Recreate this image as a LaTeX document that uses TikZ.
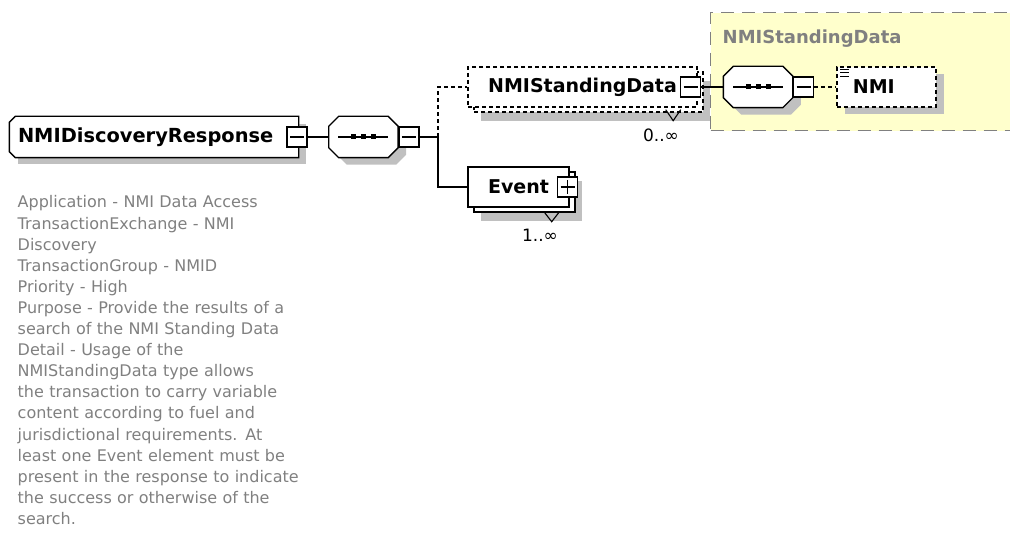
\documentclass[tikz,border=0pt]{standalone}
\usepackage{fontspec}
\setmainfont{DejaVu Sans}
\usetikzlibrary{positioning,shadows}

\definecolor{typeyellow}{RGB}{255,255,204}
\definecolor{textgray}{RGB}{128,128,128}
\definecolor{shadowgray}{RGB}{192,192,192}

\begin{document}
\begin{tikzpicture}[
    x=1pt, y=-1pt,
    line width=1.4pt,
    elemfont/.style={font=\fontsize{19}{22}\selectfont\bfseries},
    elembox/.style={draw, fill=white, elemfont, minimum height=40pt, inner sep=0pt},
    optbox/.style={elembox, dash pattern=on 4pt off 3pt},
    dshadow/.style={drop shadow={shadow xshift=8pt, shadow yshift=-7pt,
        fill=shadowgray, opacity=1}},
    multshadow/.style={drop shadow={shadow xshift=13pt, shadow yshift=-14pt,
        fill=shadowgray, opacity=1},
        copy shadow={shadow xshift=6pt, shadow yshift=-5pt, draw=black,
        fill=white, line width=1.4pt, #1}},
    seqbox/.style={inner sep=0pt, minimum width=68pt, minimum height=40pt},
    btnbox/.style={draw, fill=white, minimum size=20pt, inner sep=0pt,
        path picture={\draw[line width=1.2pt]
          ([xshift=3pt]path picture bounding box.west) --
          ([xshift=-3pt]path picture bounding box.east);}},
    btnplus/.style={draw, fill=white, minimum size=20pt, inner sep=0pt,
        path picture={\draw[line width=1.2pt]
          ([xshift=3pt]path picture bounding box.west) --
          ([xshift=-3pt]path picture bounding box.east)
          ([yshift=3pt]path picture bounding box.south) --
          ([yshift=-3pt]path picture bounding box.north);}},
    desc/.style={font=\fontsize{16}{21.1}\selectfont, text=textgray,
        align=left, text width=330pt, inner sep=0pt},
    mult/.style={font=\fontsize{17}{19}\selectfont, inner sep=0pt},
    typebox/.style={draw=textgray, dash pattern=on 13pt off 8pt,
        fill=typeyellow, inner sep=0pt}
]
\useasboundingbox (0,0) rectangle (1010,537);
\clip (0,0) rectangle (1010,537);

% Type region of NMIStandingData
\node[typebox, anchor=north west, minimum width=320pt, minimum height=118pt]
    (typearea) at (710,12) {};
\node[text=textgray, font=\fontsize{18}{20}\selectfont\bfseries,
      anchor=west, inner sep=0pt] (typelabel) at (722,39) {NMIStandingData};

% Root element
\node[elembox, draw=none, font=\fontsize{19.4}{22}\selectfont\bfseries,
      text width=272pt, inner xsep=8pt, align=left, minimum width=288pt,
      dshadow] (root) at (154,137) {NMIDiscoveryResponse};
\draw ([xshift=6pt]root.north west) -- (root.north east) -- (root.south east)
  -- ([xshift=6pt]root.south west) -- ([yshift=6pt]root.south west)
  -- ([yshift=-6pt]root.north west) -- cycle;
\node[btnbox, anchor=east] (rootbtn) at ([xshift=9pt]root.east) {};

% Children
\node[optbox, minimum width=229pt, multshadow={dash pattern=on 4pt off 3pt}]
    (sdata) at (582.5,87) {NMIStandingData};
\node[btnbox] (sdatabtn) at ([xshift=-7pt]sdata.east) {};
\node[elembox, minimum width=101pt, multshadow={solid}]
    (event) at (518.5,187) {Event};
\node[btnplus] (eventbtn) at ([xshift=-2pt]event.east) {};

% Sequences
\node[seqbox, right=21pt of rootbtn] (seq1) {};
\node[seqbox, right=22pt of sdatabtn] (seq2) {};
\foreach \s in {seq1,seq2} {
  \filldraw[fill=white, dshadow] ([xshift=10pt]\s.north west)
    -- ([xshift=-10pt]\s.north east) -- ([yshift=-10pt]\s.north east)
    -- ([yshift=10pt]\s.south east) -- ([xshift=-10pt]\s.south east)
    -- ([xshift=10pt]\s.south west) -- ([yshift=10pt]\s.south west)
    -- ([yshift=-10pt]\s.north west) -- cycle;
  \draw ([xshift=-25pt]\s.center) -- ([xshift=25pt]\s.center);
  \foreach \d in {-10,0,10}
    \fill ([xshift=\d pt]\s.center) +(-2.5,-2.5) rectangle +(2.5,2.5);
}
\node[btnbox, right=0pt of seq1] (seq1btn) {};
\node[btnbox, right=0pt of seq2] (seq2btn) {};
\coordinate (jn) at (438,137);

% NMI element
\node[optbox, dshadow, minimum width=99pt, text width=67pt, inner xsep=16pt,
      align=left] (nmi) [right=22pt of seq2btn] {NMI};
\foreach \k in {0,1,2}
  \draw[line width=0.9pt] (nmi.north west) ++(4,3+3.5*\k) -- ++(9,0);

% Multiplicities
\draw[line width=1.1pt] (sdata.south east) ++(-32,2) -- ++(7.5,11) -- ++(7.5,-11);
\node[mult] (sdatamult) at (661,135) {0..∞};
\draw[line width=1.1pt] (event.south east) ++(-25,5) -- ++(7,9) -- ++(7,-9);
\node[mult] (eventmult) at (540,235) {1..∞};

% Connectors
\draw (rootbtn) -- (seq1);
\draw (seq1btn) -- (jn);
\draw[dash pattern=on 4pt off 3pt] (jn) |- (sdata.west);
\draw (jn) |- (event.west);
\draw (sdatabtn) -- (seq2);
\draw[dash pattern=on 4pt off 3pt] (seq2btn) -- (nmi);

% Description
\node[desc, anchor=base west] (note) at (17,208)
  {Application - NMI Data Access\\
   TransactionExchange - NMI\\
   Discovery\\
   TransactionGroup - NMID\\
   Priority - High\\
   Purpose - Provide the results of a\\
   search of the NMI Standing Data\\
   Detail - Usage of the\\
   NMIStandingData type allows\\
   the transaction to carry variable\\
   content according to fuel and\\
   jurisdictional requirements. At\\
   least one Event element must be\\
   present in the response to indicate\\
   the success or otherwise of the\\
   search.};
\end{tikzpicture}
\end{document}
